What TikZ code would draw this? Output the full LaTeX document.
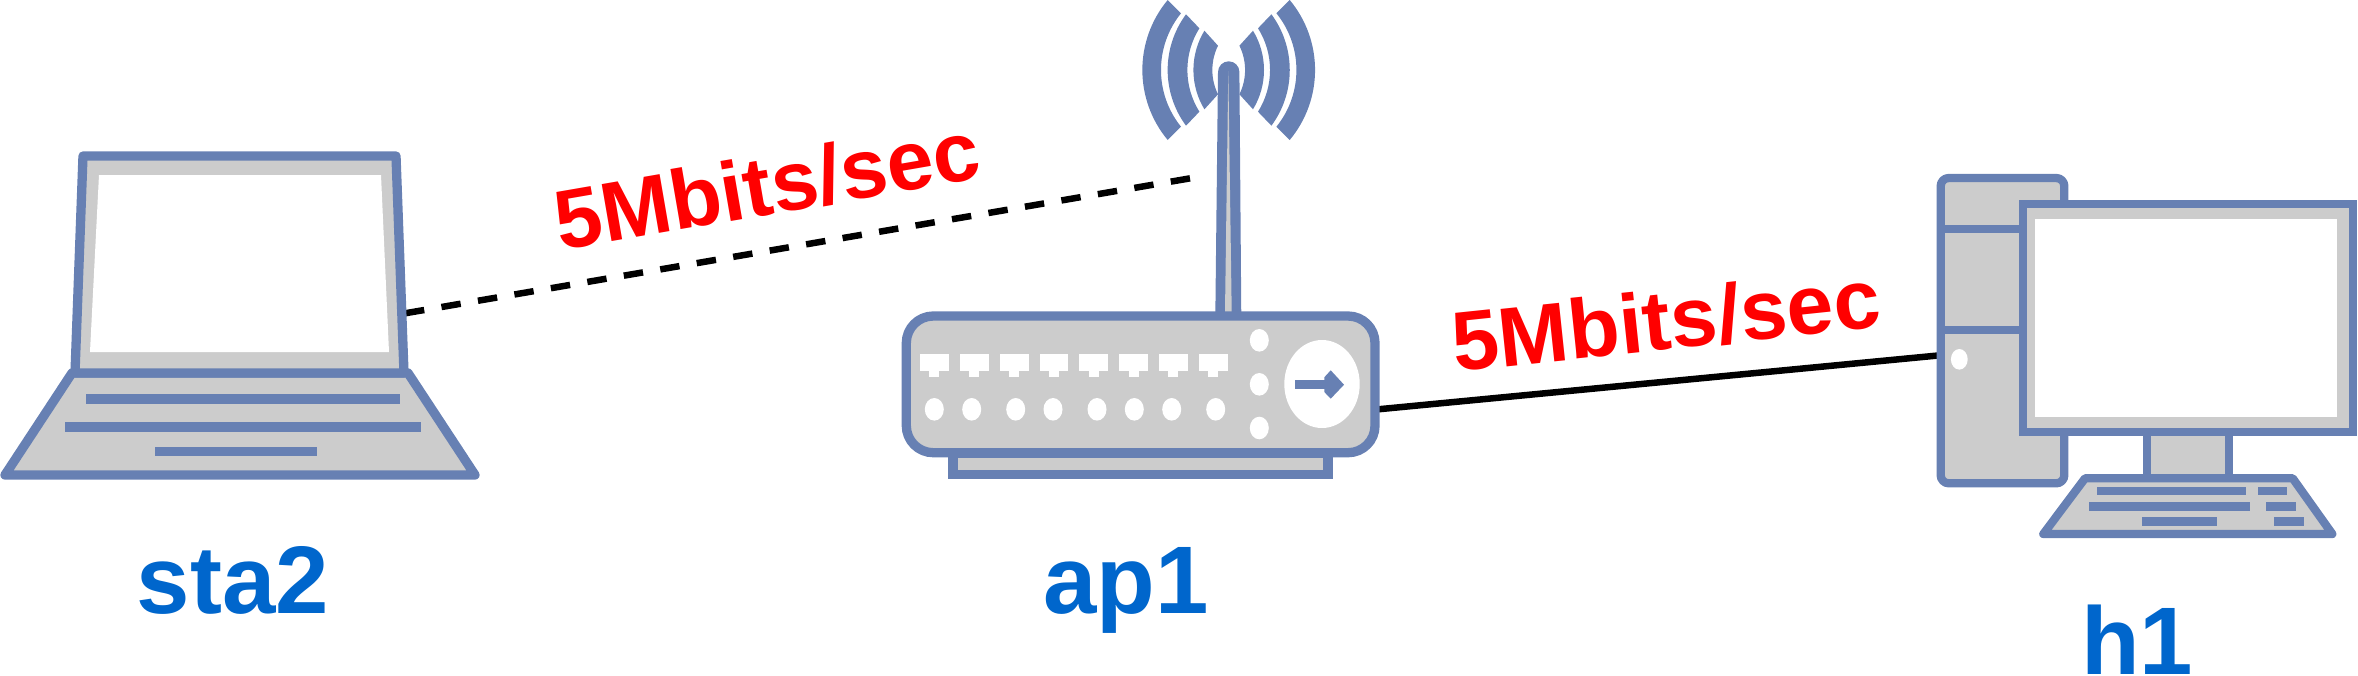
\documentclass[tikz,border=0pt]{standalone}
\usepackage{fontspec}
\setmainfont{Liberation Sans}
\usetikzlibrary{calc}
\definecolor{iconblue}{HTML}{6780B3}
\definecolor{icongray}{HTML}{CCCCCC}
\definecolor{namecolor}{HTML}{0066CC}

\begin{document}
\begin{tikzpicture}[x=1pt, y=-1pt]
  \tikzstyle{icon} = [draw=iconblue, fill=icongray, line width=9.3pt, line join=round]
  \tikzstyle{thin icon} = [draw=iconblue, fill=icongray, line width=8.3pt, line join=round]
  \tikzstyle{bar} = [fill=iconblue]
  \tikzstyle{hole} = [fill=white]
  \tikzstyle{link} = [black, line width=6.5pt]
  \tikzstyle{air} = [link, dash pattern=on 19.5pt off 17.5pt]
  \tikzstyle{hostname} = [anchor=base, text=namecolor, font=\fontsize{96}{96}\selectfont\bfseries, inner sep=0pt]
  \tikzstyle{rate} = [text=red, font=\fontsize{84}{84}\selectfont\bfseries, inner sep=0pt]

  \useasboundingbox (0,0) rectangle (2358,675);

  % connector ends
  \coordinate (sta2port) at (405,313.3);
  \coordinate (ap1air) at (1192,178);
  \coordinate (ap1port) at (1376,409.5);
  \coordinate (h1port) at (1938,355.5);

  \draw[air] (sta2port) -- (ap1air);
  \draw[link] (ap1port) -- (h1port);

  % laptop
  \draw[icon] (72,373) -- (408,373) -- (475,475) -- (5,475) -- cycle;
  \draw[icon] (83,156) -- (396,156) -- (404,373) -- (75,373) -- cycle;
  \fill[hole] (99,175) -- (381,175) -- (389,352) -- (90,352) -- cycle;
  \fill[bar] (86,394) rectangle (400,404);
  \fill[bar] (65,422) rectangle (421,431.5);
  \fill[bar] (155,447) rectangle (317,456);

  % router foot and body
  \draw[icon, line join=miter] (953,453) rectangle (1328,474.7);
  \draw[icon, rounded corners=27pt] (906.3,316) rectangle (1375,452.7);

  % antenna waves
  \foreach \side in {1,-1} {
    \begin{scope}[shift={(1228.7,70)}, xscale=\side]
      \foreach \xa/\ha/\ra/\xb/\hb/\rb in {61/70/109.3/47.7/56.7/90.3, 42.7/55.7/93.7/29.3/41.7/78.3, 24.3/39.3/75.7/10.7/24.3/55} {
        \fill[iconblue] (-\xa,-\ha) arc[start angle={180+asin(\ha/\ra)}, end angle={180-asin(\ha/\ra)}, radius=\ra]
          -- (-\xb,\hb) arc[start angle={180-asin(\hb/\rb)}, end angle={180+asin(\hb/\rb)}, radius=\rb] -- cycle;
      }
    \end{scope}
  }

  % antenna mast
  \fill[iconblue] (1215.3,318) -- (1218,72) arc[start angle=180, end angle=360, radius=10.7] -- (1241.3,318) -- cycle;
  \fill[icongray] (1225,311.3) -- (1228.3,71) -- (1231.7,311.3) -- cycle;

  % router ports
  \foreach \x in {920,960,1000,1039.7,1079.3,1119.3,1159,1199} {
    \fill[hole] (\x,354) rectangle ++(28.7,16.7);
    \fill[hole] (\x+9.3,370) rectangle ++(10,6.7);
  }
  \foreach \x in {934.3,971.7,1015.7,1053,1097,1134.3,1171.7,1215.7} {
    \fill[hole] (\x,409.3) ellipse [x radius=9.5, y radius=11.3];
  }
  \foreach \y in {340.3,384.3,428} {
    \fill[hole] (1259.3,\y) ellipse [x radius=9.5, y radius=11.3];
  }
  \fill[hole] (1322,384) ellipse [x radius=37.7, y radius=44];
  \fill[bar] (1295,380) rectangle (1327,389.3);
  \fill[bar] (1324.3,377.3) -- (1330.7,370.3) -- (1344,384.7) -- (1330.7,398.7) -- (1324.3,392) -- cycle;

  % tower
  \draw[thin icon, rounded corners=8pt] (1940.7,178) rectangle (2064.3,483.3);
  \draw[iconblue, line width=8.3pt] (1940.7,229) -- (2030,229);
  \draw[iconblue, line width=8.3pt] (1940.7,330.3) -- (2030,330.3);
  \fill[hole] (1959.3,359.3) ellipse [x radius=8.4, y radius=10.3];

  % monitor and keyboard
  \draw[thin icon, line join=miter] (2146.8,425) rectangle (2229.3,480);
  \draw[thin icon, line join=miter] (2023.3,203.7) rectangle (2353,432.3);
  \fill[hole] (2035.3,219) rectangle (2337,417.3);
  \draw[thin icon] (2085,478.3) -- (2292.7,478.3) -- (2332.3,534) -- (2043.3,534) -- cycle;
  \fill[bar] (2097.3,486.7) rectangle (2246,495);
  \fill[bar] (2258,486.7) rectangle (2287,495);
  \fill[bar] (2089,502.3) rectangle (2250,510.7);
  \fill[bar] (2266.3,502.3) rectangle (2295.7,510.7);
  \fill[bar] (2142.3,517.3) rectangle (2217,525.7);
  \fill[bar] (2274.3,517.3) rectangle (2303.7,525.7);

  % labels
  \node[hostname] (sta2) at (233,613) {sta2};
  \node[hostname] (ap1) at (1126,613) {ap1};
  \node[hostname] (h1) at (2137,674) {h1};
  \node[rate, rotate=9.8] (rateair) at (767,185) {5Mbits/sec};
  \node[rate, rotate=6] (ratewire) at (1666,320) {5Mbits/sec};
\end{tikzpicture}
\end{document}
